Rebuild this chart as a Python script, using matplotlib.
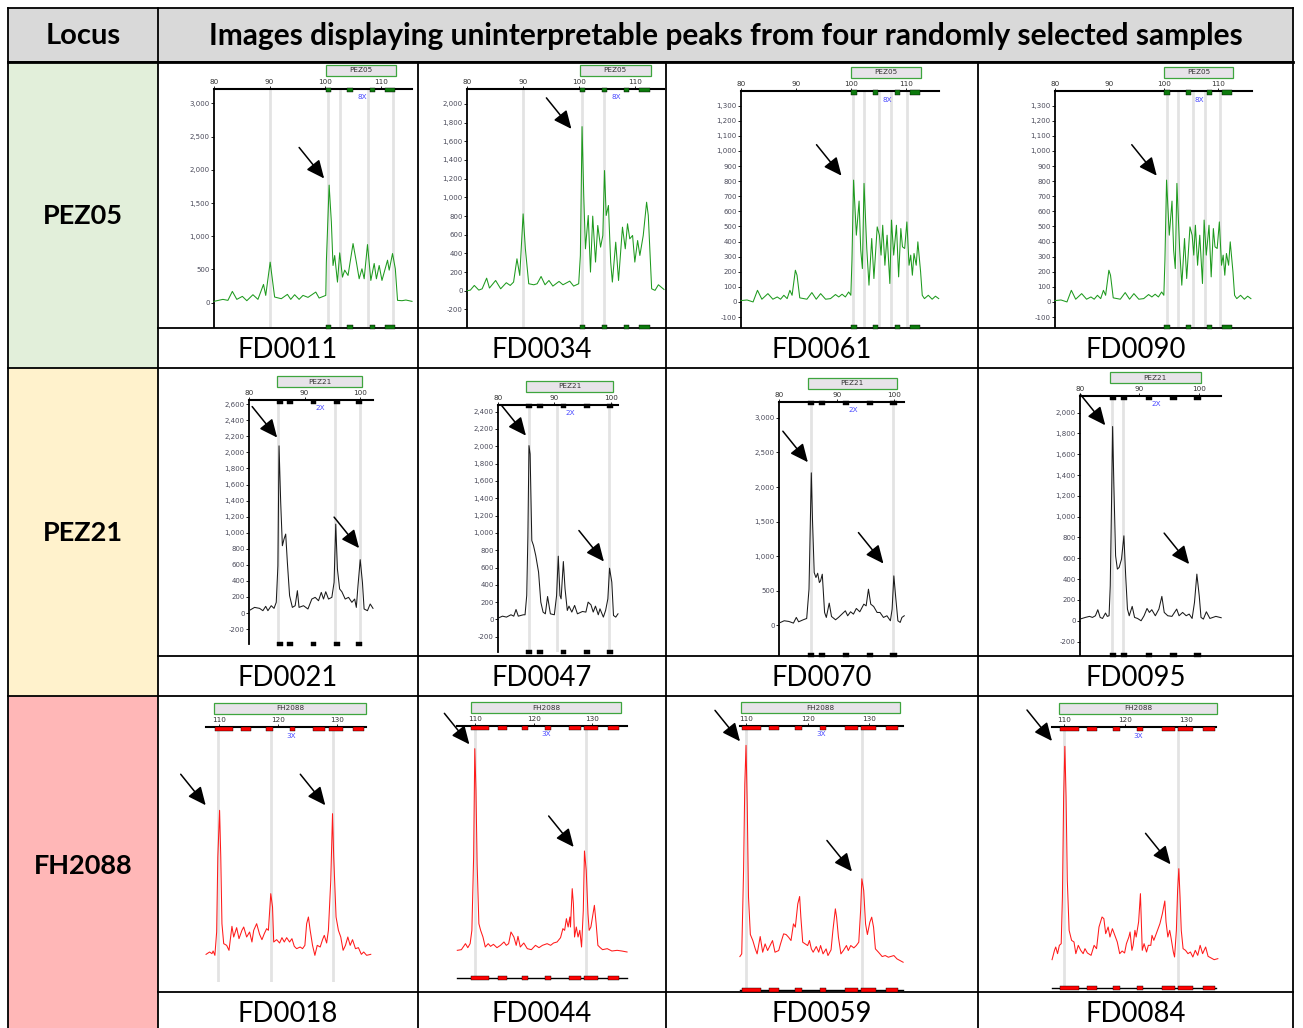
import matplotlib
matplotlib.use("Agg")
import matplotlib.pyplot as plt
import matplotlib.transforms as mtrans
from matplotlib.patches import Rectangle
from matplotlib.ticker import FuncFormatter

W, H = 1303, 1028

# ---- table text ----
header_locus = "Locus"
header_images = "Images displaying uninterpretable peaks from four randomly selected samples"
loci = ["PEZ05", "PEZ21", "FH2088"]
locus_colors = ["#e2efda", "#fff2cc", "#ffb7b7"]
samples = [["FD0011", "FD0034", "FD0061", "FD0090"],
           ["FD0021", "FD0047", "FD0070", "FD0095"],
           ["FD0018", "FD0044", "FD0059", "FD0084"]]

# ---- locus settings (bp) ----
trace_color = {"PEZ05": "#1e9a1e", "PEZ21": "#1a1a1a", "FH2088": "#ff1a1a"}
marker_color = {"PEZ05": "#0c7a0c", "PEZ21": "#000000", "FH2088": "#ff0000"}
scale_label = {"PEZ05": "8X", "PEZ21": "2X", "FH2088": "3X"}
scale_pos = {"PEZ05": 106.6, "PEZ21": 92.8, "FH2088": 122.2}
locus_range = {"PEZ05": (100.1, 112.7), "PEZ21": (85.0, 100.4), "FH2088": (109.2, 135.0)}
bin_marks = {
    "PEZ05": [(100.1, 101.1), (104.0, 105.0), (108.0, 108.9), (110.7, 112.6)],
    "PEZ21": [(85.0, 86.1), (86.9, 87.9), (91.1, 92.1), (95.2, 96.3), (99.3, 100.4)],
    "FH2088": [(109.3, 112.4), (113.8, 115.4), (118.0, 119.1), (122.0, 122.9),
               (126.0, 128.1), (128.7, 131.1), (132.8, 134.7)],
}
size_ticks = {"PEZ05": [80, 90, 100, 110], "PEZ21": [80, 90, 100], "FH2088": [110, 120, 130]}

# ---- traces: size (bp) and height (RFU) ----
fd0011_bp = [80, 81.6, 82.5, 83.3, 84.1, 85.1, 85.9, 87.0, 87.9, 88.9, 89.3, 90.1, 90.9, 92.1, 93.2,
             93.8, 94.5, 95.3, 96.0, 96.9, 98.3, 98.9, 100.1, 100.2, 100.7, 101.1, 101.4, 101.7, 102.2,
             102.6, 103.1, 103.5, 104.1, 105.0, 105.6, 106.1, 106.6, 107.0, 107.6, 108.2, 108.8, 109.2,
             109.7, 110.2, 111.2, 111.5, 112.1, 112.6, 113.0, 113.8, 114.5, 115.6]
fd0011_rfu = [20, 50, 35, 170, 50, 95, 30, 120, 50, 275, 110, 610, 85, 60, 125, 50, 120, 50, 110, 80,
              160, 70, 110, 610, 1770, 1215, 560, 710, 310, 750, 385, 490, 410, 890, 610, 360, 510, 360,
              875, 335, 590, 360, 560, 335, 640, 490, 740, 510, 35, 30, 40, 20]

fd0034_bp = [80, 80.6, 81.3, 82.1, 82.7, 83.5, 84.0, 85.1, 86.0, 87.0, 87.7, 88.3, 88.9, 89.4, 90.0,
             90.4, 91.0, 91.9, 92.5, 93.2, 93.9, 94.6, 95.3, 96.4, 97.1, 98.3, 99.0, 99.9, 100.2, 100.5,
             100.8, 101.1, 101.6, 102.0, 102.4, 102.9, 103.3, 103.8, 104.2, 104.5, 104.8, 105.2, 105.6,
             105.9, 106.5, 107.0, 107.7, 108.2, 108.6, 109.0, 109.5, 109.9, 110.4, 110.8, 111.4, 112.0,
             112.3, 112.9, 113.5, 114.1, 115.1]
fd0034_rfu = [0, 7, 57, 7, 21, 135, 29, 110, 21, 86, 57, 93, 342, 164, 823, 449, 75, 64, 75, 153, 64,
              110, 50, 100, 64, 103, 50, 75, 378, 1757, 1020, 449, 806, 200, 799, 307, 699, 467, 592,
              1287, 806, 913, 307, 93, 520, 110, 681, 449, 717, 556, 592, 307, 538, 378, 592, 948, 806,
              21, 4, 64, 14]

fd0061_bp = [80, 81.1, 82.2, 83.0, 83.8, 84.9, 85.8, 86.6, 87.2, 87.8, 88.4, 88.9, 89.3, 89.9, 90.2,
             90.7, 92.0, 92.9, 93.7, 94.5, 95.4, 96.3, 97.2, 97.8, 98.4, 99.0, 99.6, 100.0, 100.2, 100.5,
             101.0, 101.5, 101.8, 102.1, 102.4, 102.9, 103.3, 103.8, 104.2, 104.8, 105.2, 105.5, 105.8,
             106.2, 106.6, 107.1, 107.4, 107.8, 108.3, 108.7, 109.1, 109.4, 109.8, 110.2, 110.6, 110.9,
             111.2, 111.5, 111.9, 112.2, 112.7, 113.0, 113.4, 114.1, 114.8, 115.4, 116.0]
fd0061_rfu = [9, 13, 0, 77, 18, 55, 18, 33, 18, 44, 22, 77, 44, 210, 177, 27, 18, 62, 18, 55, 18, 22,
              49, 33, 51, 33, 66, 44, 276, 807, 442, 668, 343, 221, 785, 354, 111, 420, 155, 497, 442,
              310, 508, 243, 442, 122, 542, 310, 508, 166, 486, 365, 354, 530, 243, 310, 177, 321, 243,
              398, 199, 44, 22, 44, 18, 38, 22]

# FD0090 shows the same profile as FD0061
fd0090_bp = list(fd0061_bp)
fd0090_rfu = list(fd0061_rfu)

fd0021_bp = [80, 81.0, 81.9, 82.5, 83.0, 83.4, 84.0, 84.5, 84.9, 85.2, 85.4, 85.7, 86.0, 86.3, 86.6,
             86.9, 87.3, 87.8, 88.3, 88.7, 89.0, 89.8, 90.6, 91.3, 91.9, 92.5, 93.0, 93.4, 93.8, 94.3,
             94.9, 95.3, 95.6, 95.9, 96.3, 96.7, 97.3, 97.9, 98.5, 99.0, 99.3, 99.6, 100.0, 100.4, 100.7,
             101.3, 101.8, 102.3]
fd0021_rfu = [29, 70, 58, 29, 83, 29, 91, 58, 133, 589, 2082, 1377, 838, 921, 983, 630, 216, 70, 91,
              278, 70, 91, 50, 174, 195, 153, 257, 174, 265, 174, 195, 381, 1107, 547, 299, 265, 174,
              195, 133, 174, 70, 340, 664, 381, 50, 29, 112, 58]

fd0047_bp = [80, 80.8, 81.5, 82.3, 82.8, 83.2, 83.6, 84.5, 84.8, 85.1, 85.3, 85.5, 85.7, 86.0, 86.3,
             86.7, 87.2, 87.6, 88.0, 88.4, 88.8, 89.3, 90.0, 90.4, 90.7, 91.0, 91.2, 91.6, 91.9, 92.3,
             92.6, 93.1, 93.6, 94.1, 95.0, 95.6, 96.0, 96.5, 96.9, 97.3, 97.8, 98.1, 98.7, 99.1, 99.5,
             99.8, 100.2, 100.5, 100.9, 101.3]
fd0047_rfu = [15, 38, 27, 54, 38, 115, 38, 54, 54, 277, 950, 2008, 1911, 911, 854, 738, 546, 200, 85,
              65, 265, 65, 54, 277, 731, 277, 238, 669, 354, 104, 154, 85, 162, 65, 92, 85, 200, 169, 85,
              154, 54, 123, 27, 104, 238, 592, 431, 46, 27, 65]

fd0070_bp = [80, 80.9, 81.7, 82.5, 83.0, 83.4, 84.2, 84.8, 85.2, 85.6, 85.8, 86.1, 86.4, 86.7, 87.0,
             87.2, 87.5, 87.9, 88.2, 88.7, 89.1, 89.8, 90.3, 90.9, 91.5, 91.9, 92.4, 92.9, 93.4, 94.0,
             94.7, 95.1, 95.5, 95.9, 96.4, 97.0, 97.5, 98.1, 98.7, 99.3, 99.6, 99.9, 100.2, 100.6, 101.0,
             101.3, 101.7]
fd0070_rfu = [29, 63, 53, 29, 111, 48, 77, 96, 520, 2205, 1531, 761, 689, 751, 616, 640, 737, 183, 111,
              318, 125, 77, 111, 159, 207, 135, 193, 159, 241, 193, 303, 279, 520, 303, 270, 183, 183,
              111, 135, 63, 231, 713, 424, 63, 39, 111, 135]

fd0095_bp = [80, 80.9, 81.6, 82.1, 82.6, 83.0, 83.4, 83.8, 84.3, 84.6, 84.9, 85.1, 85.3, 85.5, 85.7,
             86.0, 86.3, 86.6, 87.0, 87.4, 87.7, 88.0, 88.3, 88.8, 89.2, 89.7, 90.3, 90.8, 91.3, 91.7,
             92.1, 92.7, 93.3, 93.8, 94.2, 94.8, 95.5, 96.3, 96.7, 97.3, 97.9, 98.4, 98.9, 99.3, 99.7,
             100.1, 100.4, 100.8, 101.3, 101.9, 102.4, 102.9, 103.8]
fd0095_rfu = [16, 32, 42, 32, 48, 106, 32, 22, 74, 42, 48, 336, 1072, 1866, 1328, 624, 496, 512, 592,
              816, 432, 112, 48, 138, 32, 22, 0, 48, 118, 80, 106, 48, 112, 234, 80, 48, 42, 112, 48,
              80, 48, 64, 22, 176, 448, 240, 32, 16, 86, 22, 32, 42, 29]

fd0018_bp = [107.8, 108.4, 108.8, 109.0, 109.3, 109.6, 109.8, 110.1, 110.3, 110.5, 110.8, 111.3, 111.7,
             112.2, 112.5, 113.0, 113.4, 113.9, 114.2, 114.7, 115.2, 115.6, 115.9, 116.4, 116.9, 117.3,
             117.7, 118.1, 118.4, 118.8, 119.1, 119.3, 119.8, 120.3, 120.7, 121.1, 121.5, 122.0, 122.4,
             122.8, 123.2, 123.8, 124.2, 124.6, 124.9, 125.2, 125.5, 125.9, 126.3, 126.7, 127.2, 127.6,
             127.9, 128.3, 128.6, 129.0, 129.3, 129.5, 129.9, 130.3, 130.7, 131.1, 131.5, 131.9, 132.3,
             132.7, 133.2, 133.7, 134.2, 134.6, 135.1, 135.8]
fd0018_rfu = [-8, 20, 0, 32, -20, 260, 1160, 1720, 1160, 360, 120, 100, 40, 328, 200, 312, 180, 280,
              320, 200, 260, 140, 280, 360, 232, 168, 240, 300, 280, 720, 560, 140, 168, 128, 192, 140,
              192, 140, 180, 88, 60, 80, 60, 100, 360, 440, 280, 100, -20, 100, 80, 168, 220, 128, 280,
              880, 1680, 1160, 440, 280, 200, 40, 100, 200, 100, 168, 60, 72, -8, 20, -20, -8]

fd0044_bp = [106.9, 107.6, 108.3, 108.7, 109.1, 109.4, 109.7, 109.9, 110.1, 110.3, 110.6, 110.9, 111.3,
             111.7, 112.2, 112.6, 113.1, 113.7, 114.3, 114.9, 115.3, 115.7, 116.1, 116.6, 117.0, 117.3,
             117.7, 118.3, 118.9, 119.6, 120.3, 120.9, 121.5, 122.3, 122.9, 123.4, 124.0, 124.6, 125.0,
             125.3, 125.6, 125.9, 126.2, 126.3, 126.6, 126.8, 127.0, 127.3, 127.6, 127.9, 128.2, 128.5,
             128.7, 129.0, 129.3, 129.5, 129.8, 130.4, 130.7, 131.0, 131.4, 131.8, 132.6, 133.4, 134.3,
             135.1, 136.0]
fd0044_rfu = [0, 8, 80, 32, 80, 240, 1120, 2420, 1920, 1040, 320, 240, 160, 40, 80, 48, 72, 32, 60, 100,
              60, 80, 220, 160, 60, 168, 40, 88, 20, 8, 60, 32, 60, 80, 60, 88, 100, 152, 260, 240, 380,
              280, 400, 280, 740, 560, 160, 280, 160, 240, 40, 480, 1192, 960, 440, 240, 280, 540, 320,
              60, 32, 8, 20, -8, 0, -8, -20]

fd0059_bp = [109.0, 109.3, 109.6, 109.8, 110.0, 110.2, 110.4, 110.7, 111.1, 111.5, 111.8, 112.3, 112.7,
             113.1, 113.5, 113.9, 114.3, 114.7, 115.3, 115.6, 116.1, 116.5, 116.9, 117.3, 117.7, 118.0,
             118.4, 118.7, 118.9, 119.2, 119.6, 120.0, 120.3, 120.6, 120.9, 121.4, 121.8, 122.1, 122.5,
             123.0, 123.3, 123.8, 124.1, 124.5, 124.7, 125.0, 125.4, 125.8, 126.3, 126.6, 127.0, 127.5,
             127.9, 128.3, 128.6, 128.8, 129.1, 129.4, 129.7, 130.1, 130.4, 130.7, 131.0, 131.5, 132.1,
             132.6, 133.1, 134.0, 134.5, 135.5]
fd0059_rfu = [-12, 20, 1020, 2060, 2520, 1780, 700, 252, 180, 80, 20, 228, 40, 140, 60, 120, 180, 40,
              60, 140, 260, 252, 220, 180, 380, 340, 620, 708, 460, 160, 140, 120, 180, 80, 40, 108, 40,
              120, 20, 80, 0, 68, 300, 560, 460, 220, 20, 60, 120, 60, 120, 92, 120, 160, 540, 920, 780,
              380, 252, 400, 460, 340, 80, 40, -12, 0, -20, 0, -40, -80]

fd0084_bp = [108.0, 108.4, 108.6, 108.9, 109.2, 109.5, 109.7, 109.9, 110.1, 110.3, 110.5, 110.8, 111.2,
             111.6, 111.9, 112.3, 112.7, 113.1, 113.4, 113.8, 114.4, 114.9, 115.3, 115.7, 116.2, 116.5,
             116.8, 117.2, 117.5, 117.9, 118.3, 118.7, 119.1, 119.5, 119.9, 120.2, 120.6, 120.8, 121.1,
             121.3, 121.6, 121.8, 122.2, 122.5, 122.8, 123.1, 123.5, 123.8, 124.2, 124.4, 124.7, 125.1,
             125.4, 125.7, 126.1, 126.5, 126.7, 127.0, 127.3, 127.5, 127.9, 128.1, 128.4, 128.6, 128.8,
             129.0, 129.2, 129.5, 129.9, 130.3, 130.7, 131.1, 131.5, 131.9, 132.3, 132.7, 133.2, 133.6,
             134.0, 134.6, 135.2]
fd0084_rfu = [-32, 80, 120, 40, 140, 160, 720, 1920, 2528, 1920, 920, 320, 200, 180, 40, 140, 80, 40,
              100, 48, 20, 140, 100, 360, 480, 460, 280, 360, 240, 340, 260, 180, 40, 72, 48, 160, 240,
              300, 80, 140, 320, 240, 420, 760, 80, 160, 60, 140, 140, 260, 200, 280, 340, 400, 520, 672,
              420, 240, 320, 240, 60, 0, 320, 800, 1060, 720, 320, 100, 80, 40, 60, 0, 80, 20, 140, 40,
              120, 8, -8, -32, -20]

traces = {
    "FD0011": (fd0011_bp, fd0011_rfu), "FD0034": (fd0034_bp, fd0034_rfu),
    "FD0061": (fd0061_bp, fd0061_rfu), "FD0090": (fd0090_bp, fd0090_rfu),
    "FD0021": (fd0021_bp, fd0021_rfu), "FD0047": (fd0047_bp, fd0047_rfu),
    "FD0070": (fd0070_bp, fd0070_rfu), "FD0095": (fd0095_bp, fd0095_rfu),
    "FD0018": (fd0018_bp, fd0018_rfu), "FD0044": (fd0044_bp, fd0044_rfu),
    "FD0059": (fd0059_bp, fd0059_rfu), "FD0084": (fd0084_bp, fd0084_rfu),
}

# grey allele-call lines (bp)
call_lines = {
    "FD0011": [90.0, 100.5, 102.6, 107.6, 112.1], "FD0034": [90.0, 100.5, 104.4],
    "FD0061": [100.4, 102.4, 105.2, 107.3, 110.2], "FD0090": [100.6, 102.6, 105.3, 107.5, 110.3],
    "FD0021": [85.3, 95.5, 99.9], "FD0047": [85.5, 90.4, 99.7],
    "FD0070": [85.5, 99.8], "FD0095": [85.4, 87.3],
    "FD0018": [109.9, 118.8, 129.3], "FD0044": [110.0, 128.9],
    "FD0059": [110.0, 128.8], "FD0084": [110.0, 128.6],
}

# arrow tips (bp, RFU)
arrow_tips = {
    "FD0011": [(99.8, 1870)], "FD0034": [(98.6, 1733)],
    "FD0061": [(98.3, 836)], "FD0090": [(98.7, 836)],
    "FD0021": [(85.06, 2185), (99.8, 808)], "FD0047": [(84.96, 2123), (98.8, 669)],
    "FD0070": [(85.0, 2359), (98.1, 891)], "FD0095": [(84.26, 1878), (98.4, 544)],
    "FD0018": [(107.74, 1781), (128.07, 1781)], "FD0044": [(108.97, 2472), (126.85, 1240)],
    "FD0059": [(109.02, 2568), (127.19, 1008)], "FD0084": [(107.99, 2592), (127.44, 1112)],
}

# y-axis ticks (RFU); FH2088 shots have no y-axis
y_ticks = {
    "FD0011": list(range(0, 3001, 500)), "FD0034": list(range(-200, 2001, 200)),
    "FD0061": list(range(-100, 1301, 100)), "FD0090": list(range(-100, 1301, 100)),
    "FD0021": list(range(-200, 2601, 200)), "FD0047": list(range(-200, 2401, 200)),
    "FD0070": list(range(0, 3001, 500)), "FD0095": list(range(-200, 2001, 200)),
}

# ---- layout (pixels) ----
col_x = [8, 158, 418, 666, 978, 1293]
row_top = [62, 368, 696]
label_top = [328, 656, 992]
row_bottom = [368, 696, 1034]

# panel boxes: left, right, top, bottom (px) and view limits
panel_box = {
    "FD0011": (214, 412, 89, 327), "FD0034": (467, 664, 89, 327),
    "FD0061": (741, 939, 91, 327), "FD0090": (1055, 1252, 91, 327),
    "FD0021": (249, 373, 400, 644), "FD0047": (498, 618, 405, 652),
    "FD0070": (779, 904, 402, 655), "FD0095": (1080, 1221, 396, 655),
    "FD0018": (206, 366, 727, 982), "FD0044": (457, 627, 726, 978),
    "FD0059": (740, 903, 726, 990), "FD0084": (1052, 1216, 727, 988),
}
panel_lim = {
    "FD0011": ((80, 115.6), (-366, 3217)), "FD0034": ((80, 115.1), (-388, 2160)),
    "FD0061": ((80, 116.05), (-166, 1397)), "FD0090": ((80, 116.2), (-166, 1397)),
    "FD0021": ((80, 102.3), (-386, 2653)), "FD0047": ((80, 101.3), (-376, 2477)),
    "FD0070": ((80, 101.66), (-433, 3231)), "FD0095": ((80, 103.77), (-329, 2159)),
    "FD0018": ((107.79, 134.99), (-340, 2720)), "FD0044": ((106.85, 135.99), (-332, 2692)),
    "FD0059": ((109.02, 135.48), (-413, 2752)), "FD0084": ((107.99, 134.9), (-372, 2760)),
}

fig = plt.figure(figsize=(W / 100, H / 100), dpi=100)
bg = fig.add_axes([0, 0, 1, 1])
bg.set_xlim(0, W)
bg.set_ylim(H, 0)
bg.axis("off")

table_font = "Lato"
# header
bg.add_patch(Rectangle((col_x[0], 8), col_x[-1] - col_x[0], row_top[0] - 8, fc="#d9d9d9", ec="none"))
bg.text((col_x[0] + col_x[1]) / 2, 36, header_locus, ha="center", va="center",
        fontsize=21, fontweight="bold", family=table_font)
bg.text((col_x[1] + col_x[-1]) / 2, 36, header_images, ha="center", va="center",
        fontsize=21.5, fontweight="bold", family=table_font)

for i, locus in enumerate(loci):
    bg.add_patch(Rectangle((col_x[0], row_top[i]), col_x[1] - col_x[0], row_bottom[i] - row_top[i],
                           fc=locus_colors[i], ec="none"))
    bg.text((col_x[0] + col_x[1]) / 2, (row_top[i] + row_bottom[i]) / 2 + 1, locus,
            ha="center", va="center", fontsize=19.5, fontweight="bold", family=table_font)
    for j, s in enumerate(samples[i]):
        bg.text((col_x[j + 1] + col_x[j + 2]) / 2, (label_top[i] + min(row_bottom[i], 1032)) / 2 + 2, s,
                ha="center", va="center", fontsize=19.8, family=table_font)

# grid lines
lw = 1.3
for y in [8, 62] + row_bottom[:2]:
    bg.plot([col_x[0], col_x[-1]], [y, y], color="black", lw=lw)
bg.plot([col_x[0], col_x[-1]], [62, 62], color="black", lw=2.0)
for y in label_top:
    bg.plot([col_x[1], col_x[-1]], [y, y], color="black", lw=lw)
for x in [col_x[0], col_x[1], col_x[-1]]:
    bg.plot([x, x], [8, H], color="black", lw=lw)
for x in col_x[2:-1]:
    bg.plot([x, x], [62, H], color="black", lw=lw)

fmt = FuncFormatter(lambda v, p: f"{v:,.0f}")

for i, locus in enumerate(loci):
    for s in samples[i]:
        l, r, t, b = panel_box[s]
        hpx = b - t
        ax = fig.add_axes([l / W, 1 - b / H, (r - l) / W, hpx / H])
        ax.set_facecolor("none")
        xl, yl = panel_lim[s]
        ax.set_xlim(*xl)
        ax.set_ylim(*yl)
        for sp in ("right", "bottom"):
            ax.spines[sp].set_visible(False)
        ax.spines["top"].set_linewidth(1.5)
        ax.spines["left"].set_linewidth(1.3)
        ax.xaxis.tick_top()
        ax.set_xticks([v for v in size_ticks[locus] if xl[0] <= v <= xl[1] + 0.5])
        ax.tick_params(axis="x", labelsize=5.2, labelcolor="#333333", length=2, width=0.6, pad=1)
        if s in y_ticks:
            ax.set_yticks(y_ticks[s])
            ax.yaxis.set_major_formatter(fmt)
            ax.tick_params(axis="y", labelsize=5.0, labelcolor="#4a4a5a", length=2, width=0.6, pad=1)
        else:
            ax.spines["left"].set_visible(False)
            ax.set_yticks([])
        for lbl in ax.get_xticklabels() + ax.get_yticklabels():
            lbl.set_family("DejaVu Sans")

        for x in call_lines[s]:
            ax.axvline(x, color="#e3e3e3", lw=2.0, zorder=1)

        bp, rfu = traces[s]
        ax.plot(bp, rfu, color=trace_color[locus], lw=0.75, zorder=3, clip_on=False)

        tr = mtrans.blended_transform_factory(ax.transData, ax.transAxes)
        # bin markers on top (and bottom) axis
        for a, c in bin_marks[locus]:
            ax.add_patch(Rectangle((a, 1 - 3.5 / hpx), c - a, 4 / hpx, transform=tr,
                                   fc=marker_color[locus], ec="black", lw=0.3, clip_on=False, zorder=4))
            if s != "FD0018":
                ax.add_patch(Rectangle((a, -2 / hpx), c - a, 4 / hpx, transform=tr,
                                       fc=marker_color[locus], ec="black", lw=0.3, clip_on=False, zorder=4))
        if locus == "FH2088" and s != "FD0018":
            ax.plot(xl, [0, 0], transform=tr, color="black", lw=1.0, clip_on=False)

        # marker name box
        lo, hi = locus_range[locus]
        ax.add_patch(Rectangle((lo, 1 + 13 / hpx), hi - lo, 11 / hpx, transform=tr,
                               fc="#e7e3e9", ec="#3ea53e", lw=0.9, clip_on=False))
        ax.text((lo + hi) / 2, 1 + 18.5 / hpx, locus, transform=tr, ha="center", va="center",
                fontsize=5.2, color="#333333", family="DejaVu Sans")
        ax.text(scale_pos[locus], 1 - 8.5 / hpx, scale_label[locus], transform=tr, ha="center",
                va="center", fontsize=5.2, color="#4a4aff", family="DejaVu Sans")

        for tip in arrow_tips[s]:
            ax.annotate("", xy=tip, xytext=(-25, 31), textcoords="offset pixels",
                        arrowprops=dict(arrowstyle="-|>,head_length=1.1,head_width=0.5",
                                        color="black", lw=1.1, shrinkA=0, shrinkB=0,
                                        mutation_scale=10),
                        annotation_clip=False, zorder=6)

fig.savefig("out.png", dpi=100)
